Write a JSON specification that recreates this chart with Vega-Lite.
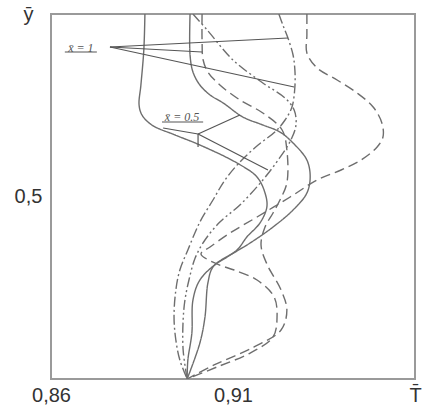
{
  "$schema": "https://vega.github.io/schema/vega-lite/v6.json",
  "width": 364,
  "height": 365,
  "autosize": {"type": "none"},
  "padding": {"left": 51, "top": 14, "right": 13, "bottom": 36},
  "background": "white",
  "config": {
    "view": {"stroke": "#9a9a9a", "strokeWidth": 2},
    "axis": {"domain": false, "grid": false, "ticks": false, "tickSize": 0, "labelFont": "Liberation Sans", "labelFontSize": 20, "labelColor": "#333333", "title": null, "labelFlush": false, "labelOverlap": false, "labelBound": false}
  },
  "datasets": {
    "curves": [
      {"c": "A", "s": "solid", "i": 1, "T": 0.8858, "Y": 1.0},
      {"c": "A", "s": "solid", "i": 2, "T": 0.8855, "Y": 0.9014},
      {"c": "A", "s": "solid", "i": 3, "T": 0.8847, "Y": 0.8055},
      {"c": "A", "s": "solid", "i": 4, "T": 0.8842, "Y": 0.7507},
      {"c": "A", "s": "solid", "i": 5, "T": 0.8850, "Y": 0.7233},
      {"c": "A", "s": "solid", "i": 6, "T": 0.8877, "Y": 0.6959},
      {"c": "A", "s": "solid", "i": 7, "T": 0.8941, "Y": 0.6685},
      {"c": "A", "s": "solid", "i": 8, "T": 0.9009, "Y": 0.6411},
      {"c": "A", "s": "solid", "i": 9, "T": 0.9111, "Y": 0.5918},
      {"c": "A", "s": "solid", "i": 10, "T": 0.9166, "Y": 0.5534},
      {"c": "A", "s": "solid", "i": 11, "T": 0.9188, "Y": 0.5096},
      {"c": "A", "s": "solid", "i": 12, "T": 0.9193, "Y": 0.4712},
      {"c": "A", "s": "solid", "i": 13, "T": 0.9174, "Y": 0.4274},
      {"c": "A", "s": "solid", "i": 14, "T": 0.9138, "Y": 0.3890},
      {"c": "A", "s": "solid", "i": 15, "T": 0.9111, "Y": 0.3534},
      {"c": "A", "s": "solid", "i": 16, "T": 0.9056, "Y": 0.3178},
      {"c": "A", "s": "solid", "i": 17, "T": 0.9009, "Y": 0.2712},
      {"c": "A", "s": "solid", "i": 18, "T": 0.8990, "Y": 0.2164},
      {"c": "A", "s": "solid", "i": 19, "T": 0.8987, "Y": 0.1260},
      {"c": "A", "s": "solid", "i": 20, "T": 0.8976, "Y": 0.0521},
      {"c": "A", "s": "solid", "i": 21, "T": 0.8974, "Y": 0.0},

      {"c": "B", "s": "solid", "i": 1, "T": 0.8982, "Y": 1.0},
      {"c": "B", "s": "solid", "i": 2, "T": 0.8982, "Y": 0.8877},
      {"c": "B", "s": "solid", "i": 3, "T": 0.8990, "Y": 0.8411},
      {"c": "B", "s": "solid", "i": 4, "T": 0.9009, "Y": 0.8055},
      {"c": "B", "s": "solid", "i": 5, "T": 0.9037, "Y": 0.7781},
      {"c": "B", "s": "solid", "i": 6, "T": 0.9073, "Y": 0.7562},
      {"c": "B", "s": "solid", "i": 7, "T": 0.9127, "Y": 0.7178},
      {"c": "B", "s": "solid", "i": 8, "T": 0.9182, "Y": 0.6959},
      {"c": "B", "s": "solid", "i": 9, "T": 0.9229, "Y": 0.6767},
      {"c": "B", "s": "solid", "i": 10, "T": 0.9265, "Y": 0.6466},
      {"c": "B", "s": "solid", "i": 11, "T": 0.9303, "Y": 0.6},
      {"c": "B", "s": "solid", "i": 12, "T": 0.9312, "Y": 0.5534},
      {"c": "B", "s": "solid", "i": 13, "T": 0.9303, "Y": 0.5096},
      {"c": "B", "s": "solid", "i": 14, "T": 0.9265, "Y": 0.4630},
      {"c": "B", "s": "solid", "i": 15, "T": 0.9210, "Y": 0.4164},
      {"c": "B", "s": "solid", "i": 16, "T": 0.9147, "Y": 0.3726},
      {"c": "B", "s": "solid", "i": 17, "T": 0.9084, "Y": 0.3342},
      {"c": "B", "s": "solid", "i": 18, "T": 0.9045, "Y": 0.3068},
      {"c": "B", "s": "solid", "i": 19, "T": 0.9031, "Y": 0.2630},
      {"c": "B", "s": "solid", "i": 20, "T": 0.9023, "Y": 0.1699},
      {"c": "B", "s": "solid", "i": 21, "T": 0.9009, "Y": 0.0986},
      {"c": "B", "s": "solid", "i": 22, "T": 0.8974, "Y": 0.0},

      {"c": "C", "s": "dash", "i": 1, "T": 0.9015, "Y": 1.0},
      {"c": "C", "s": "dash", "i": 2, "T": 0.9015, "Y": 0.9288},
      {"c": "C", "s": "dash", "i": 3, "T": 0.9018, "Y": 0.8740},
      {"c": "C", "s": "dash", "i": 4, "T": 0.9031, "Y": 0.8411},
      {"c": "C", "s": "dash", "i": 5, "T": 0.9064, "Y": 0.8055},
      {"c": "C", "s": "dash", "i": 6, "T": 0.9119, "Y": 0.7644},
      {"c": "C", "s": "dash", "i": 7, "T": 0.9182, "Y": 0.7288},
      {"c": "C", "s": "dash", "i": 8, "T": 0.9235, "Y": 0.6822},
      {"c": "C", "s": "dash", "i": 9, "T": 0.9248, "Y": 0.6274},
      {"c": "C", "s": "dash", "i": 10, "T": 0.9248, "Y": 0.5370},
      {"c": "C", "s": "dash", "i": 11, "T": 0.9229, "Y": 0.4904},
      {"c": "C", "s": "dash", "i": 12, "T": 0.9210, "Y": 0.4548},
      {"c": "C", "s": "dash", "i": 13, "T": 0.9188, "Y": 0.4164},
      {"c": "C", "s": "dash", "i": 14, "T": 0.9177, "Y": 0.3671},
      {"c": "C", "s": "dash", "i": 15, "T": 0.9193, "Y": 0.3151},
      {"c": "C", "s": "dash", "i": 16, "T": 0.9232, "Y": 0.2438},
      {"c": "C", "s": "dash", "i": 17, "T": 0.9248, "Y": 0.1890},
      {"c": "C", "s": "dash", "i": 18, "T": 0.9232, "Y": 0.1342},
      {"c": "C", "s": "dash", "i": 19, "T": 0.9158, "Y": 0.0877},
      {"c": "C", "s": "dash", "i": 20, "T": 0.9048, "Y": 0.0384},
      {"c": "C", "s": "dash", "i": 21, "T": 0.8974, "Y": 0.0},

      {"c": "F", "s": "dash", "i": 1, "T": 0.9303, "Y": 1.0},
      {"c": "F", "s": "dash", "i": 2, "T": 0.9303, "Y": 0.9425},
      {"c": "F", "s": "dash", "i": 3, "T": 0.9303, "Y": 0.8932},
      {"c": "F", "s": "dash", "i": 4, "T": 0.9331, "Y": 0.8521},
      {"c": "F", "s": "dash", "i": 5, "T": 0.9386, "Y": 0.8192},
      {"c": "F", "s": "dash", "i": 6, "T": 0.9441, "Y": 0.7836},
      {"c": "F", "s": "dash", "i": 7, "T": 0.9485, "Y": 0.7452},
      {"c": "F", "s": "dash", "i": 8, "T": 0.9509, "Y": 0.7014},
      {"c": "F", "s": "dash", "i": 9, "T": 0.9512, "Y": 0.6630},
      {"c": "F", "s": "dash", "i": 10, "T": 0.9496, "Y": 0.6356},
      {"c": "F", "s": "dash", "i": 11, "T": 0.9452, "Y": 0.6},
      {"c": "F", "s": "dash", "i": 12, "T": 0.9397, "Y": 0.5726},
      {"c": "F", "s": "dash", "i": 13, "T": 0.9331, "Y": 0.5452},
      {"c": "F", "s": "dash", "i": 14, "T": 0.9257, "Y": 0.4986},
      {"c": "F", "s": "dash", "i": 15, "T": 0.9166, "Y": 0.4438},
      {"c": "F", "s": "dash", "i": 16, "T": 0.9092, "Y": 0.4},
      {"c": "F", "s": "dash", "i": 17, "T": 0.9037, "Y": 0.3616},
      {"c": "F", "s": "dash", "i": 18, "T": 0.9012, "Y": 0.3425},
      {"c": "F", "s": "dash", "i": 19, "T": 0.9056, "Y": 0.3151},
      {"c": "F", "s": "dash", "i": 20, "T": 0.9103, "Y": 0.2986},
      {"c": "F", "s": "dash", "i": 21, "T": 0.9166, "Y": 0.2712},
      {"c": "F", "s": "dash", "i": 22, "T": 0.9213, "Y": 0.2247},
      {"c": "F", "s": "dash", "i": 23, "T": 0.9221, "Y": 0.1699},
      {"c": "F", "s": "dash", "i": 24, "T": 0.9210, "Y": 0.1151},
      {"c": "F", "s": "dash", "i": 25, "T": 0.9147, "Y": 0.0712},
      {"c": "F", "s": "dash", "i": 26, "T": 0.9056, "Y": 0.0329},
      {"c": "F", "s": "dash", "i": 27, "T": 0.8974, "Y": 0.0},

      {"c": "E", "s": "dashdot", "i": 1, "T": 0.9226, "Y": 1.0},
      {"c": "E", "s": "dashdot", "i": 2, "T": 0.9237, "Y": 0.9699},
      {"c": "E", "s": "dashdot", "i": 3, "T": 0.9251, "Y": 0.9342},
      {"c": "E", "s": "dashdot", "i": 4, "T": 0.9265, "Y": 0.8877},
      {"c": "E", "s": "dashdot", "i": 5, "T": 0.9270, "Y": 0.8466},
      {"c": "E", "s": "dashdot", "i": 6, "T": 0.9270, "Y": 0.8},
      {"c": "E", "s": "dashdot", "i": 7, "T": 0.9262, "Y": 0.7452},
      {"c": "E", "s": "dashdot", "i": 8, "T": 0.9243, "Y": 0.7096},
      {"c": "E", "s": "dashdot", "i": 9, "T": 0.9215, "Y": 0.6767},
      {"c": "E", "s": "dashdot", "i": 10, "T": 0.9169, "Y": 0.6411},
      {"c": "E", "s": "dashdot", "i": 11, "T": 0.9119, "Y": 0.5945},
      {"c": "E", "s": "dashdot", "i": 12, "T": 0.9078, "Y": 0.5452},
      {"c": "E", "s": "dashdot", "i": 13, "T": 0.9045, "Y": 0.4904},
      {"c": "E", "s": "dashdot", "i": 14, "T": 0.9009, "Y": 0.4301},
      {"c": "E", "s": "dashdot", "i": 15, "T": 0.8976, "Y": 0.3534},
      {"c": "E", "s": "dashdot", "i": 16, "T": 0.8954, "Y": 0.2986},
      {"c": "E", "s": "dashdot", "i": 17, "T": 0.8943, "Y": 0.2438},
      {"c": "E", "s": "dashdot", "i": 18, "T": 0.8938, "Y": 0.1699},
      {"c": "E", "s": "dashdot", "i": 19, "T": 0.8943, "Y": 0.1068},
      {"c": "E", "s": "dashdot", "i": 20, "T": 0.8954, "Y": 0.0521},
      {"c": "E", "s": "dashdot", "i": 21, "T": 0.8974, "Y": 0.0},

      {"c": "D", "s": "dashdotdot", "i": 1, "T": 0.8990, "Y": 1.0},
      {"c": "D", "s": "dashdotdot", "i": 2, "T": 0.9029, "Y": 0.9562},
      {"c": "D", "s": "dashdotdot", "i": 3, "T": 0.9100, "Y": 0.8740},
      {"c": "D", "s": "dashdotdot", "i": 4, "T": 0.9182, "Y": 0.8110},
      {"c": "D", "s": "dashdotdot", "i": 5, "T": 0.9243, "Y": 0.7699},
      {"c": "D", "s": "dashdotdot", "i": 6, "T": 0.9268, "Y": 0.7370},
      {"c": "D", "s": "dashdotdot", "i": 7, "T": 0.9273, "Y": 0.6959},
      {"c": "D", "s": "dashdotdot", "i": 8, "T": 0.9259, "Y": 0.6548},
      {"c": "D", "s": "dashdotdot", "i": 9, "T": 0.9224, "Y": 0.6},
      {"c": "D", "s": "dashdotdot", "i": 10, "T": 0.9182, "Y": 0.5452},
      {"c": "D", "s": "dashdotdot", "i": 11, "T": 0.9119, "Y": 0.4767},
      {"c": "D", "s": "dashdotdot", "i": 12, "T": 0.9064, "Y": 0.4301},
      {"c": "D", "s": "dashdotdot", "i": 13, "T": 0.9023, "Y": 0.3808},
      {"c": "D", "s": "dashdotdot", "i": 14, "T": 0.8996, "Y": 0.3315},
      {"c": "D", "s": "dashdotdot", "i": 15, "T": 0.8979, "Y": 0.2712},
      {"c": "D", "s": "dashdotdot", "i": 16, "T": 0.8968, "Y": 0.2164},
      {"c": "D", "s": "dashdotdot", "i": 17, "T": 0.8963, "Y": 0.1616},
      {"c": "D", "s": "dashdotdot", "i": 18, "T": 0.8963, "Y": 0.0795},
      {"c": "D", "s": "dashdotdot", "i": 19, "T": 0.8974, "Y": 0.0}
    ],
    "pointers": [
      {"p": "p1", "i": 1, "T": 0.8762, "Y": 0.9096},
      {"p": "p1", "i": 2, "T": 0.9251, "Y": 0.9342},
      {"p": "p2", "i": 1, "T": 0.8762, "Y": 0.9096},
      {"p": "p2", "i": 2, "T": 0.9015, "Y": 0.8959},
      {"p": "p3", "i": 1, "T": 0.8762, "Y": 0.9096},
      {"p": "p3", "i": 2, "T": 0.9268, "Y": 0.8},
      {"p": "p4", "i": 1, "T": 0.8908, "Y": 0.6877},
      {"p": "p4", "i": 2, "T": 0.9004, "Y": 0.6712},
      {"p": "p5", "i": 1, "T": 0.9004, "Y": 0.6712},
      {"p": "p5", "i": 2, "T": 0.9119, "Y": 0.7233},
      {"p": "p6", "i": 1, "T": 0.9004, "Y": 0.6712},
      {"p": "p6", "i": 2, "T": 0.9196, "Y": 0.5726},
      {"p": "p7", "i": 1, "T": 0.9004, "Y": 0.6712},
      {"p": "p7", "i": 2, "T": 0.9004, "Y": 0.6356},
      {"p": "u1", "i": 1, "T": 0.8638, "Y": 0.8959},
      {"p": "u1", "i": 2, "T": 0.8726, "Y": 0.8959},
      {"p": "u2", "i": 1, "T": 0.8905, "Y": 0.7041},
      {"p": "u2", "i": 2, "T": 0.9018, "Y": 0.7041}
    ],
    "labels": [
      {"label": "x\u0304 = 1", "T": 0.8682, "Y": 0.9068},
      {"label": "x\u0304 = 0.5", "T": 0.8960, "Y": 0.7178}
    ]
  },
  "layer": [
    {
      "data": {"name": "curves"},
      "mark": {"type": "line", "interpolate": "catmull-rom", "strokeWidth": 1.4, "color": "#6e6e6e", "clip": true},
      "encoding": {
        "x": {"field": "T", "type": "quantitative", "scale": {"domain": [0.86, 0.96], "nice": false, "zero": false},
              "axis": {"values": [0.86, 0.91, 0.96], "labelExpr": "datum.value < 0.88 ? '0,86' : datum.value < 0.93 ? '0,91' : 'T\u0304'", "labelPadding": 6}},
        "y": {"field": "Y", "type": "quantitative", "scale": {"domain": [0, 1], "nice": false, "zero": false},
              "axis": {"values": [0.5, 1.0], "labelExpr": "datum.value > 0.9 ? '\u0233' : '0,5'", "labelAlign": "center", "labelPadding": 23}},
        "detail": {"field": "c", "type": "nominal"},
        "order": {"field": "i", "type": "quantitative"},
        "strokeDash": {"field": "s", "type": "nominal", "scale": {"domain": ["solid", "dash", "dashdot", "dashdotdot"], "range": [[1, 0], [10, 5], [10, 3, 2, 3], [10, 3, 2, 3, 2, 3]]}, "legend": null}
      }
    },
    {
      "data": {"name": "pointers"},
      "mark": {"type": "line", "strokeWidth": 1.2, "color": "#555555"},
      "encoding": {
        "x": {"field": "T", "type": "quantitative"},
        "y": {"field": "Y", "type": "quantitative"},
        "detail": {"field": "p", "type": "nominal"},
        "order": {"field": "i", "type": "quantitative"}
      }
    },
    {
      "data": {"name": "labels"},
      "mark": {"type": "text", "font": "Liberation Serif", "fontStyle": "italic", "fontSize": 12, "color": "#555555"},
      "encoding": {
        "x": {"field": "T", "type": "quantitative"},
        "y": {"field": "Y", "type": "quantitative"},
        "text": {"field": "label", "type": "nominal"}
      }
    }
  ]
}
